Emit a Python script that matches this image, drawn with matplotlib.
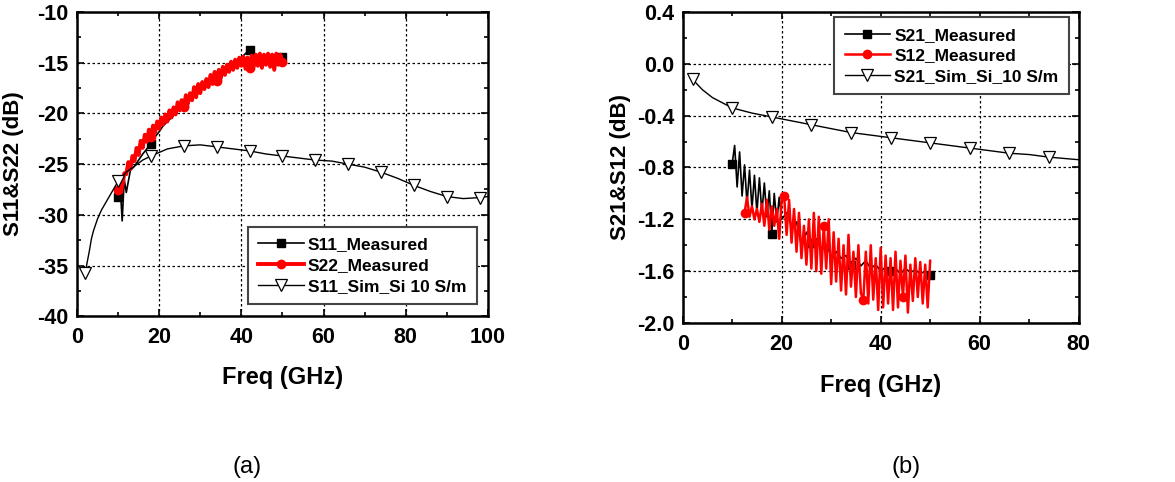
import matplotlib
matplotlib.use("Agg")
import matplotlib.pyplot as plt
from matplotlib.ticker import MultipleLocator, FormatStrFormatter

plt.rcParams['font.family'] = ['Liberation Sans', 'DejaVu Sans']
plt.rcParams['axes.unicode_minus'] = False

# ---- (a) reflection ----
s22_freq = [10 + 0.5 * i for i in range(81)]
s22_db = [-27.6, -26.6, -27.3, -25.9, -26.0, -24.8, -25.5, -24.2, -24.7, -23.4,
          -24.1, -22.7, -23.4, -22.1, -22.8, -21.6, -22.3, -21.2, -21.9, -20.8,
          -21.5, -20.4, -21.1, -20.1, -20.8, -19.7, -20.4, -19.4, -20.1, -18.9,
          -19.7, -18.7, -19.4, -18.2, -19.0, -18.0, -18.7, -17.4, -18.4, -17.1,
          -18.0, -16.9, -17.6, -16.6, -17.4, -16.2, -17.1, -15.9, -16.8, -15.7,
          -16.5, -15.4, -16.2, -15.2, -15.9, -14.9, -15.7, -14.7, -15.5, -14.5,
          -15.3, -14.4, -15.6, -14.5, -15.5, -14.3, -15.4, -14.2, -15.3, -14.1,
          -15.5, -14.2, -15.2, -14.1, -15.4, -14.2, -15.7, -14.1, -15.2, -14.2,
          -14.9]
s22_marks = [10, 18, 26, 34, 42, 50]

s11_freq = [10, 10.5, 11, 11.5, 12, 13, 14, 15, 16, 17, 18, 19, 20, 21, 22, 23, 24,
            25, 26, 27, 28, 29, 30, 31, 32, 33, 34, 35, 36, 37, 38, 39, 40, 41, 42,
            43, 44, 45, 46, 47, 48, 49, 50]
s11_db = [-28.2, -27.0, -30.6, -26.5, -27.8, -25.6, -25.2, -24.6, -24.0, -23.5,
          -23.0, -22.3, -21.8, -21.2, -20.8, -20.4, -20.0, -19.4, -19.0, -18.7,
          -18.3, -18.0, -17.6, -17.3, -16.9, -16.6, -16.3, -16.0, -15.7, -15.4,
          -15.1, -14.8, -14.5, -14.1, -13.7, -14.3, -14.5, -14.4, -14.6, -14.4,
          -14.5, -14.3, -14.4]
s11_marks = [10, 18, 26, 34, 42, 50]

s11_sim_freq = [2, 3, 3.5, 4, 5, 6, 7, 8, 10, 12, 14, 16, 18, 22, 26, 30, 34, 38, 42,
                46, 50, 54, 58, 62, 66, 70, 74, 78, 82, 86, 90, 94, 98, 100]
s11_sim_db = [-35.7, -33.6, -32.4, -31.6, -30.4, -29.5, -28.8, -28.1, -26.7, -25.8,
              -25.2, -24.6, -24.2, -23.5, -23.2, -23.1, -23.3, -23.5, -23.7, -24.0,
              -24.2, -24.4, -24.6, -24.7, -25.0, -25.3, -25.8, -26.4, -27.1, -27.7,
              -28.2, -28.4, -28.3, -28.2]
s11_sim_marks = [2, 10, 18, 26, 34, 42, 50, 58, 66, 74, 82, 90, 98]

# ---- (b) transmission ----
s21_freq = [10, 10.5, 11, 11.5, 12, 12.5, 13, 13.5, 14, 14.5, 15, 15.5, 16, 16.5,
            17, 17.5, 18, 18.5, 19, 19.5, 20, 21, 22, 23, 24, 25, 26, 27, 28, 29,
            30, 31, 32, 33, 34, 35, 36, 37, 38, 39, 40, 41, 42, 43, 44, 45, 46, 47,
            48, 49, 50]
s21_db = [-0.77, -0.63, -0.95, -0.68, -1.02, -0.78, -1.08, -0.82, -1.12, -0.86,
          -1.15, -0.88, -1.15, -0.92, -1.18, -0.98, -1.31, -1.00, -1.22, -1.03,
          -1.20, -1.15, -1.25, -1.22, -1.40, -1.30, -1.38, -1.35, -1.42, -1.40,
          -1.48, -1.45, -1.50, -1.48, -1.55, -1.50, -1.56, -1.52, -1.58, -1.55,
          -1.60, -1.57, -1.60, -1.58, -1.62, -1.58, -1.61, -1.59, -1.62, -1.60,
          -1.63]
s21_marks = [10, 18, 26, 34, 42, 50]

s12_freq = [12.5 + 0.5 * i for i in range(76)]
s12_db = [-1.15, -1.03, -1.18, -1.10, -1.20, -1.12, -1.22, -1.08, -1.25, -1.05,
          -1.28, -1.10, -1.25, -1.12, -1.35, -1.05, -1.02, -1.32, -1.05, -1.38,
          -1.12, -1.45, -1.15, -1.50, -1.25, -1.55, -1.20, -1.58, -1.15, -1.60,
          -1.18, -1.62, -1.25, -1.58, -1.20, -1.70, -1.30, -1.68, -1.35, -1.75,
          -1.40, -1.78, -1.32, -1.72, -1.45, -1.80, -1.40, -1.77, -1.82, -1.45,
          -1.85, -1.40, -1.82, -1.50, -1.90, -1.42, -1.88, -1.48, -1.85, -1.50,
          -1.90, -1.45, -1.88, -1.52, -1.80, -1.48, -1.92, -1.55, -1.83, -1.50,
          -1.80, -1.53, -1.85, -1.55, -1.88, -1.52]
s12_marks = [12.5, 20.5, 28.5, 36.5, 44.5]

s21_sim_freq = [2, 3, 4, 5, 6, 8, 10, 14, 18, 22, 26, 30, 34, 38, 42, 46, 50, 54, 58,
                62, 66, 70, 74, 80]
s21_sim_db = [-0.12, -0.16, -0.20, -0.23, -0.26, -0.30, -0.34, -0.38, -0.41, -0.44,
              -0.47, -0.50, -0.53, -0.55, -0.57, -0.59, -0.61, -0.63, -0.65, -0.67,
              -0.69, -0.70, -0.72, -0.74]
s21_sim_marks = [2, 10, 18, 26, 34, 42, 50, 58, 66, 74]


def _idx(xs, marks):
    return [xs.index(m) for m in marks]


def _style_axes(ax):
    for sp in ax.spines.values():
        sp.set_linewidth(1.8)
    ax.tick_params(which='both', direction='in', top=True, right=True,
                   labelsize=15.5, width=1.2)
    ax.tick_params(axis='x', which='major', pad=8)
    ax.tick_params(axis='y', which='major', pad=6)
    ax.tick_params(which='major', length=5)
    ax.tick_params(which='minor', length=3)
    ax.grid(True, which='major', color='black', linestyle=(0, (2, 2)), linewidth=0.9)
    for lbl in ax.get_xticklabels() + ax.get_yticklabels():
        lbl.set_fontweight('bold')


def _legend(ax, loc, anchor):
    leg = ax.legend(loc=loc, bbox_to_anchor=anchor, fancybox=False, numpoints=1,
                    prop={'weight': 'bold', 'size': 12.5}, handlelength=2.6,
                    borderpad=0.6, labelspacing=0.32, handletextpad=0.25,
                    borderaxespad=0, framealpha=1)
    leg.get_frame().set_edgecolor('#444444')
    leg.get_frame().set_linewidth(1.5)


fig = plt.figure(figsize=(11.75, 4.82), dpi=100)

ax1 = fig.add_axes([0.0655, 0.344, 0.3498, 0.631])
ax1.plot(s11_freq, s11_db, color='black', lw=1.2, marker='s', ms=6,
         markevery=_idx(s11_freq, s11_marks), label='S11_Measured')
ax1.plot(s22_freq, s22_db, color='red', lw=2.8, marker='o', ms=6,
         markevery=_idx(s22_freq, s22_marks), label='S22_Measured')
ax1.plot(s11_sim_freq, s11_sim_db, color='black', lw=1.0, marker='v', ms=9,
         mfc='white', mec='black', mew=0.9,
         markevery=_idx(s11_sim_freq, s11_sim_marks), label='S11_Sim_Si 10 S/m')
ax1.set_xlim(0, 100)
ax1.set_ylim(-40, -10)
ax1.xaxis.set_major_locator(MultipleLocator(20))
ax1.xaxis.set_minor_locator(MultipleLocator(10))
ax1.yaxis.set_major_locator(MultipleLocator(5))
ax1.yaxis.set_minor_locator(MultipleLocator(2.5))
_style_axes(ax1)
ax1.set_xlabel('Freq (GHz)', fontsize=17, fontweight='bold')
ax1.set_ylabel('S11&S22 (dB)', fontsize=16, fontweight='bold')
ax1.xaxis.set_label_coords(0.5, -0.165)
ax1.yaxis.set_label_coords(-0.128, 0.5)
_legend(ax1, 'lower right', (0.973, 0.039))

ax2 = fig.add_axes([0.581, 0.330, 0.337, 0.645])
ax2.plot(s21_freq, s21_db, color='black', lw=1.2, marker='s', ms=6,
         markevery=_idx(s21_freq, s21_marks), label='S21_Measured')
ax2.plot(s12_freq, s12_db, color='red', lw=1.8, marker='o', ms=6,
         markevery=_idx(s12_freq, s12_marks), label='S12_Measured')
ax2.plot(s21_sim_freq, s21_sim_db, color='black', lw=1.0, marker='v', ms=9,
         mfc='white', mec='black', mew=0.9,
         markevery=_idx(s21_sim_freq, s21_sim_marks), label='S21_Sim_Si_10 S/m')
ax2.set_xlim(0, 80)
ax2.set_ylim(-2.0, 0.4)
ax2.xaxis.set_major_locator(MultipleLocator(20))
ax2.xaxis.set_minor_locator(MultipleLocator(10))
ax2.yaxis.set_major_locator(MultipleLocator(0.4))
ax2.yaxis.set_minor_locator(MultipleLocator(0.2))
ax2.yaxis.set_major_formatter(FormatStrFormatter('%.1f'))
_style_axes(ax2)
ax2.set_xlabel('Freq (GHz)', fontsize=17, fontweight='bold')
ax2.set_ylabel('S21&S12 (dB)', fontsize=16, fontweight='bold')
ax2.xaxis.set_label_coords(0.5, -0.165)
ax2.yaxis.set_label_coords(-0.13, 0.5)
_legend(ax2, 'upper right', (0.975, 0.984))

fig.text(247 / 1175, 1 - 467 / 482, '(a)', ha='center', va='center', fontsize=17)
fig.text(906 / 1175, 1 - 467 / 482, '(b)', ha='center', va='center', fontsize=17)

fig.savefig('out.png', dpi=100)
